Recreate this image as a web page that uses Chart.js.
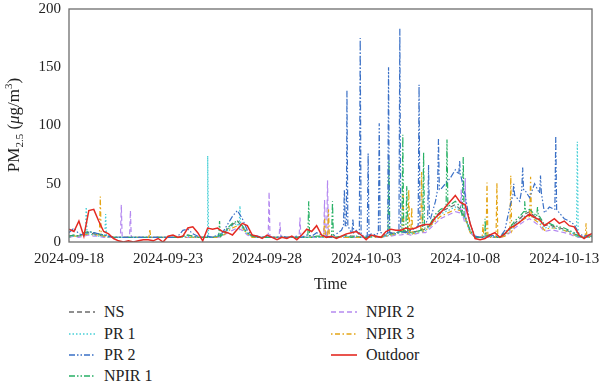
<!DOCTYPE html>
<html>
<head>
<meta charset="utf-8">
<script src="https://cdn.jsdelivr.net/npm/chart.js@4.4.1/dist/chart.umd.min.js"></script>
<style>
  html, body { margin: 0; padding: 0; background: #fff; }
  #wrap { position: relative; width: 600px; height: 386px; font-family: "Liberation Serif", serif; }
  #chartBox { position: absolute; left: 0; top: 0; width: 600px; height: 300px; }
  .leg { position: absolute; font-size: 16px; color: #222; line-height: 16px; height: 16px; white-space: nowrap; }
  .leg svg { position: absolute; top: 3px; }
  .leg span { position: absolute; top: 0; }
</style>
</head>
<body>
<div id="wrap">
  <div id="chartBox"><canvas id="pm" width="600" height="300"></canvas></div>
  <div id="legend"></div>
</div>
<script>
// time axis: days since 2024-09-18, one value every 6 hours
const startDate = Date.UTC(2024, 8, 18);
const stepDays = 0.25;
const xTicks = [0, 5, 10, 15, 20, 25];
const yTicks = [0, 50, 100, 150, 200];

const outdoor = [
  11, 9, 18, 5, 27, 28, 18, 9, 7, 3, 1, 0, 1, 0, 1, 2, 2, 1, 3, 0,
  5, 6, 4, 5, 12, 13, 8, 1, 12, 11, 12, 9, 8, 6, 11, 16, 14, 6, 5, 3,
  6, 4, 2, 4, 3, 5, 2, 6, 11, 9, 14, 6, 4, 5, 3, 5, 7, 8, 9, 6,
  2, 6, 5, 4, 9, 11, 10, 10, 12, 11, 12, 14, 15, 15, 21, 25, 30, 35, 40, 34,
  32, 16, 3, 2, 3, 6, 8, 4, 7, 12, 14, 17, 21, 24, 21, 19, 14, 17, 20, 16,
  18, 14, 13, 6, 3, 6, 8
];
const ns = [
  5, 6, 5, 7, 8, 7, 6, 5, 4, 4, 4, 4, 4, 4, 4, 4, 4, 4, 4, 4,
  4, 4, 4, 5, 6, 5, 4, 4, 4, 4, 5, 6, 11, 15, 18, 13, 8, 5, 4, 4,
  4, 4, 4, 4, 4, 4, 4, 4, 4, 4, 5, 4, 4, 4, 4, 5, 6, 5, 5, 4,
  4, 5, 5, 4, 6, 7, 8, 9, 9, 8, 9, 10, 11, 15, 22, 26, 28, 30, 32, 28,
  21, 9, 4, 4, 4, 5, 4, 4, 7, 11, 16, 20, 24, 26, 22, 20, 14, 15, 13, 12,
  11, 9, 7, 5, 4, 5, 5
];
const pr1 = [
  4, 5, 5, 6, 7, 6, 5, 5, 4, 4, 4, 4, 4, 4, 4, 4, 4, 4, 4, 4,
  4, 4, 4, 4, 5, 4, 4, 4, 4, 4, 5, 6, 10, 14, 16, 12, 7, 5, 4, 4,
  4, 4, 4, 4, 4, 4, 4, 4, 4, 4, 4, 4, 4, 4, 4, 5, 5, 4, 5, 4,
  4, 4, 5, 4, 5, 6, 7, 8, 8, 7, 8, 9, 10, 14, 20, 24, 26, 28, 30, 27,
  20, 9, 4, 4, 4, 5, 4, 4, 6, 10, 15, 18, 22, 24, 20, 18, 12, 13, 12, 11,
  10, 9, 7, 4, 4, 4, 5
];
const pr2 = [
  8, 12, 7, 6, 9, 8, 7, 6, 5, 4, 4, 4, 4, 4, 4, 4, 4, 4, 4, 4,
  4, 4, 5, 10, 11, 7, 5, 4, 5, 4, 6, 8, 15, 22, 27, 20, 10, 6, 5, 4,
  5, 4, 4, 5, 4, 4, 5, 4, 6, 5, 8, 6, 5, 4, 7, 10, 14, 8, 10, 6,
  5, 7, 6, 8, 6, 8, 7, 9, 8, 10, 12, 14, 15, 20, 35, 45, 50, 55, 62, 58,
  40, 15, 5, 4, 5, 6, 5, 4, 10, 30, 40, 35, 45, 38, 50, 42, 25, 30, 28, 25,
  20, 18, 15, 7, 5, 6, 6
];
const npir1 = [
  5, 6, 5, 8, 9, 8, 7, 6, 5, 4, 4, 4, 4, 4, 4, 4, 4, 4, 4, 4,
  4, 4, 4, 5, 6, 5, 4, 4, 4, 4, 5, 7, 12, 16, 18, 14, 8, 5, 4, 4,
  4, 4, 4, 4, 4, 4, 4, 4, 4, 4, 5, 5, 4, 4, 4, 5, 5, 4, 5, 4,
  4, 5, 5, 4, 6, 7, 8, 9, 10, 8, 9, 10, 12, 16, 24, 28, 30, 32, 35, 30,
  22, 10, 4, 4, 5, 6, 4, 4, 8, 12, 18, 22, 26, 28, 24, 22, 15, 16, 14, 13,
  12, 10, 8, 5, 4, 5, 5
];
const npir2 = [
  4, 5, 4, 5, 6, 5, 5, 4, 4, 4, 4, 4, 4, 4, 4, 4, 4, 4, 4, 4,
  4, 4, 4, 4, 4, 4, 4, 4, 4, 4, 4, 5, 8, 10, 12, 10, 6, 4, 4, 4,
  4, 4, 4, 4, 4, 4, 4, 4, 4, 4, 4, 4, 4, 4, 4, 4, 4, 4, 4, 4,
  4, 4, 4, 4, 5, 5, 6, 6, 7, 6, 7, 8, 8, 12, 16, 20, 22, 24, 26, 25,
  18, 8, 4, 4, 4, 4, 4, 4, 5, 8, 12, 15, 18, 20, 17, 14, 9, 10, 10, 9,
  8, 7, 5, 4, 4, 4, 4
];
const npir3 = [
  4, 5, 5, 6, 7, 6, 6, 5, 4, 4, 4, 4, 4, 4, 4, 4, 4, 4, 4, 4,
  4, 4, 4, 4, 4, 4, 4, 4, 4, 4, 4, 5, 9, 12, 14, 12, 7, 4, 4, 4,
  4, 4, 4, 4, 4, 4, 4, 4, 4, 4, 4, 5, 4, 4, 4, 4, 4, 4, 4, 4,
  4, 4, 4, 4, 5, 6, 7, 8, 8, 7, 8, 9, 10, 14, 18, 22, 24, 26, 28, 27,
  20, 8, 4, 4, 4, 4, 4, 4, 5, 9, 14, 17, 20, 22, 19, 16, 10, 12, 12, 11,
  10, 8, 6, 4, 4, 4, 5
];

// short peaks: [day, value]
const pr1Peaks = [[0.87, 30], [1.85, 24], [7.0, 74], [8.63, 31], [25.66, 86]];
const pr2Peaks = [[13.9, 45], [14.03, 130], [14.33, 20], [14.7, 175], [15.1, 76], [15.66, 102],
  [16.13, 150], [16.7, 183], [17.67, 135], [18.15, 66], [18.65, 89], [19.72, 70],
  [22.45, 50], [22.9, 64], [23.8, 57], [24.57, 91]];
const npir1Peaks = [[7.6, 18], [12.1, 35], [13.3, 35], [16.15, 70], [16.85, 92], [17.05, 48],
  [17.9, 77], [19.08, 88], [19.9, 73], [21.0, 20], [23.0, 35], [23.65, 30]];
const npir2Peaks = [[2.64, 32], [3.1, 27], [10.1, 43], [10.65, 17], [11.66, 21], [12.9, 36],
  [13.05, 53], [19.8, 45], [20.0, 55]];
const npir3Peaks = [[1.58, 39], [4.08, 11], [12.9, 20], [13.1, 28], [16.86, 44], [17.15, 45],
  [17.3, 30], [17.8, 60], [20.9, 15], [21.1, 51], [21.6, 51], [22.3, 57], [23.3, 56], [26.1, 16]];

// a peak is a short burst: it leaves and returns to the nearest 6-hourly reading
const peakHalfWidth = 0.045;
function toPoints(vals, peaks) {
  const pts = vals.map((v, i) => ({ x: i * stepDays, y: v }));
  (peaks || []).forEach(([d, v]) => {
    const base = vals[Math.round(d / stepDays)];
    pts.push({ x: d - peakHalfWidth, y: base }, { x: d, y: v }, { x: d + peakHalfWidth, y: base });
  });
  return pts.sort((a, b) => a.x - b.x);
}

const series = [
  { label: "NS", vals: ns, peaks: null, color: "#6b6b6b", dash: [5, 3], order: 6 },
  { label: "PR 1", vals: pr1, peaks: pr1Peaks, color: "#45cfd6", dash: [1.5, 2], order: 3 },
  { label: "PR 2", vals: pr2, peaks: pr2Peaks, color: "#3a70c6", dash: [6, 2, 1.5, 2, 1.5, 2], order: 1 },
  { label: "NPIR 1", vals: npir1, peaks: npir1Peaks, color: "#27b065", dash: [6, 2, 1.5, 2, 1.5, 2], order: 2 },
  { label: "NPIR 2", vals: npir2, peaks: npir2Peaks, color: "#b58af0", dash: [5, 3], order: 5 },
  { label: "NPIR 3", vals: npir3, peaks: npir3Peaks, color: "#e4a516", dash: [1.5, 2.5, 5, 2.5], order: 4 },
  { label: "Outdoor", vals: outdoor, peaks: null, color: "#e42a22", dash: [], order: 0 }
];

function dateLabel(v) {
  const d = new Date(startDate + v * 86400000);
  const mm = String(d.getUTCMonth() + 1).padStart(2, "0");
  const dd = String(d.getUTCDate()).padStart(2, "0");
  return d.getUTCFullYear() + "-" + mm + "-" + dd;
}

const FONT = "Liberation Serif";

// frame round the plot + y title with sub/superscript
const framePlugin = {
  id: "frame",
  afterDraw(chart) {
    const { ctx, chartArea: a } = chart;
    ctx.save();
    ctx.strokeStyle = "#6d6d6d";
    ctx.lineWidth = 1.3;
    ctx.strokeRect(a.left, a.top, a.right - a.left, a.bottom - a.top);

    const parts = [
      { t: "PM", f: "17px " + FONT, dy: 0 },
      { t: "2.5", f: "11px " + FONT, dy: 5 },
      { t: " (", f: "17px " + FONT, dy: 0 },
      { t: "\u03bc", f: "italic 17px " + FONT, dy: 0 },
      { t: "g/m", f: "17px " + FONT, dy: 0 },
      { t: "3", f: "11px " + FONT, dy: -6 },
      { t: ")", f: "17px " + FONT, dy: 0 }
    ];
    let total = 0;
    parts.forEach(p => { ctx.font = p.f; p.w = ctx.measureText(p.t).width; total += p.w; });
    ctx.translate(15, 125);
    ctx.rotate(-Math.PI / 2);
    ctx.fillStyle = "#222";
    ctx.textBaseline = "middle";
    let x = -total / 2;
    parts.forEach(p => { ctx.font = p.f; ctx.fillText(p.t, x, p.dy); x += p.w; });
    ctx.restore();
  }
};

new Chart(document.getElementById("pm"), {
  type: "line",
  data: {
    datasets: series.map(s => ({
      label: s.label,
      data: toPoints(s.vals, s.peaks),
      borderColor: s.color,
      backgroundColor: s.color,
      borderDash: s.dash,
      borderWidth: s.label === "Outdoor" ? 1.5 : 1.2,
      pointRadius: 0,
      tension: 0,
      order: s.order
    }))
  },
  options: {
    responsive: false,
    animation: false,
    layout: { padding: { top: 2, right: 8, left: 0, bottom: 0 } },
    plugins: { legend: { display: false }, tooltip: { enabled: false } },
    scales: {
      x: {
        type: "linear",
        min: 0,
        max: 26.4,
        grid: { display: false },
        border: { display: false },
        afterBuildTicks: scale => { scale.ticks = xTicks.map(v => ({ value: v })); },
        afterFit: scale => { scale.height = 58; },
        ticks: {
          maxRotation: 0,
          autoSkip: false,
          padding: 0,
          color: "#222",
          font: { family: FONT, size: 15 },
          callback: v => dateLabel(v)
        },
        title: {
          display: true,
          text: "Time",
          color: "#222",
          font: { family: FONT, size: 16 },
          padding: { top: 0, bottom: 6 }
        }
      },
      y: {
        min: 0,
        max: 200,
        grid: { display: false },
        border: { display: false },
        afterBuildTicks: scale => { scale.ticks = yTicks.map(v => ({ value: v })); },
        afterFit: scale => { scale.width = 69; },
        ticks: {
          padding: 0,
          color: "#222",
          font: { family: FONT, size: 15 }
        }
      }
    }
  },
  plugins: [framePlugin]
});

// legend in two columns
const legendPos = [
  [69, 312], [69, 334], [69, 355], [69, 376],
  [331, 312], [331, 334], [331, 355]
];
const legend = document.getElementById("legend");
series.forEach((s, i) => {
  const [lx, ly] = legendPos[i];
  const item = document.createElement("div");
  item.className = "leg";
  item.style.left = lx + "px";
  item.style.top = (ly - 8) + "px";
  item.innerHTML =
    `<svg width="26" height="10" style="left:0"><line x1="0" y1="5" x2="26" y2="5" stroke="${s.color}" stroke-width="${s.label === "Outdoor" ? 1.6 : 1.3}" stroke-dasharray="${s.dash.join(" ")}"/></svg>` +
    `<span style="left:35px">${s.label}</span>`;
  legend.appendChild(item);
});
</script>
</body>
</html>
